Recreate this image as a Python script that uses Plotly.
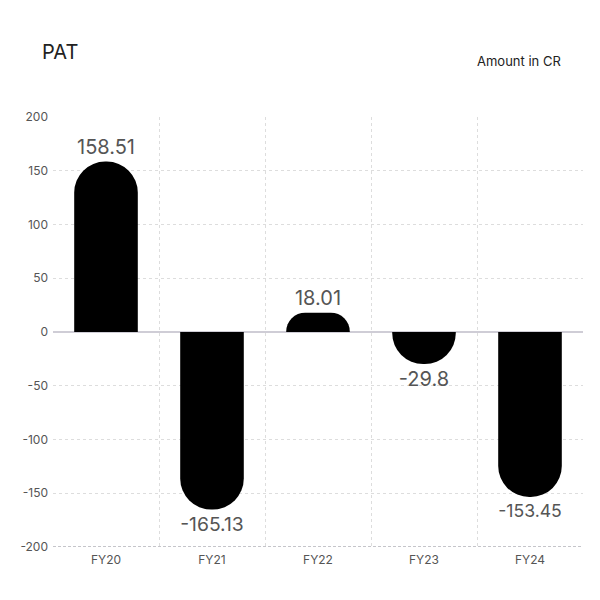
import plotly.graph_objects as go

categories = ["FY20", "FY21", "FY22", "FY23", "FY24"]
pat_values = [158.51, -165.13, 18.01, -29.8, -153.45]
value_labels = ["158.51", "-165.13", "18.01", "-29.8", "-153.45"]
y_tick_values = [-200, -150, -100, -50, 0, 50, 100, 150, 200]
y_tick_labels = ["-200", "-150", "-100", "-50", "0", "50", "100", "150", "200"]

FONT = "Inter, Roboto, sans-serif"

fig = go.Figure()
fig.add_trace(go.Bar(
    x=categories,
    y=pat_values,
    text=value_labels,
    textposition="outside",
    textfont=dict(family=FONT, size=20, color="#555555"),
    cliponaxis=False,
    marker=dict(color="#000000", cornerradius="50%", line=dict(width=0)),
    width=0.6,
    hoverinfo="x+y",
))

fig.add_shape(type="line", xref="paper", yref="y", x0=0, x1=1, y0=-200, y1=-200,
              line=dict(color="#8a8a94", width=1, dash="3px,2px"), layer="above")

fig.update_layout(
    width=600, height=600,
    margin=dict(l=45, r=25, t=109, b=61, autoexpand=False),
    paper_bgcolor="white", plot_bgcolor="white",
    showlegend=False,
    font=dict(family=FONT, color="#555555"),
    annotations=[
        dict(text="PAT", xref="paper", yref="paper", x=-0.0245, y=1.151,
             xanchor="left", yanchor="middle", showarrow=False,
             font=dict(family=FONT, size=20, color="#222222")),
        dict(text="Amount in CR", xref="paper", yref="paper", x=0.962, y=1.130,
             xanchor="right", yanchor="middle", showarrow=False,
             font=dict(family=FONT, size=13, color="#222222")),
    ],
)

fig.update_xaxes(
    type="category",
    tickson="boundaries",
    showgrid=True, gridcolor="#dddddd", griddash="3px,3px", gridwidth=1,
    ticks="", showline=False, zeroline=False,
    tickfont=dict(family=FONT, size=12, color="#555555"),
    ticklabelstandoff=4,
)
fig.update_yaxes(
    range=[-200, 200],
    tickmode="array", tickvals=y_tick_values, ticktext=y_tick_labels,
    showgrid=True, gridcolor="#dddddd", griddash="3px,3px", gridwidth=1,
    zeroline=True, zerolinecolor="#cfcdd6", zerolinewidth=2,
    ticks="", showline=False,
    tickfont=dict(family=FONT, size=12, color="#555555"),
    ticklabelstandoff=4,
)

fig.write_html("out.html")
